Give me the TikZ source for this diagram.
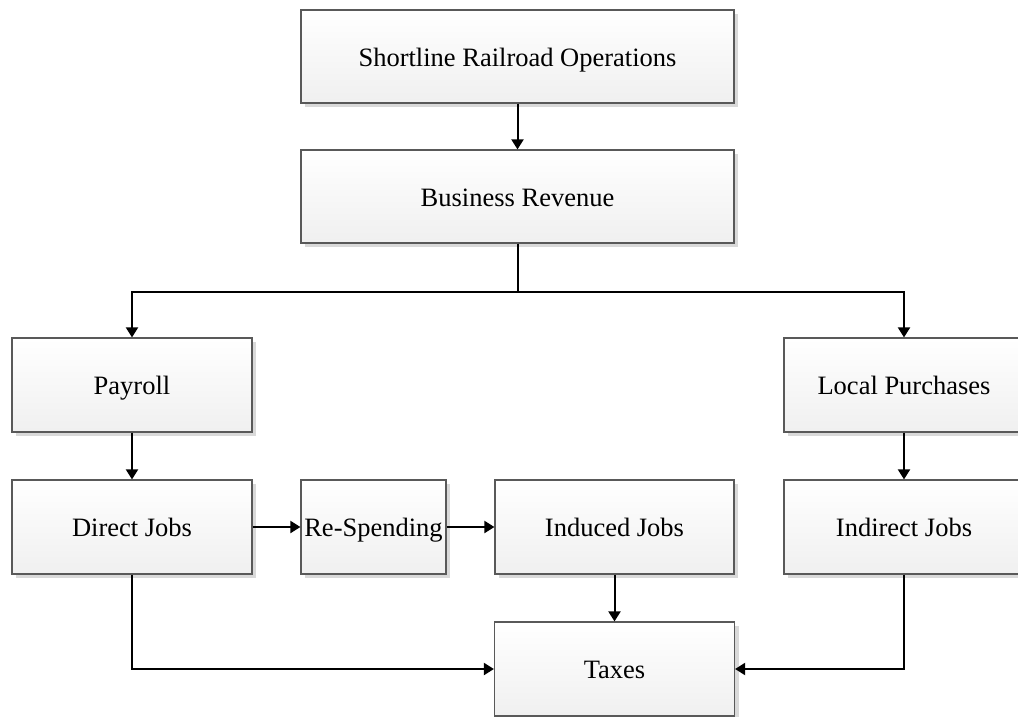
\documentclass[tikz,border=0pt]{standalone}
\usepackage{fontspec}
\setmainfont{Liberation Serif}
\usetikzlibrary{arrows.meta,shadows}
\tikzset{
  flowbox/.style={draw=black!65, line width=1.2pt, top color=white, bottom color=black!6,
    drop shadow={shadow xshift=4pt, shadow yshift=-4pt, fill=black!15, opacity=1},
    inner sep=0pt, font=\fontsize{26.5}{30}\selectfont, text=black,
    text height=24pt, text depth=5pt},
  conn/.style={line width=2pt, draw=black},
  arr/.style={conn, -{Triangle[length=10pt,width=12pt]}}
}
\begin{document}
\begin{tikzpicture}[x=1pt,y=-1pt]
\useasboundingbox (0,0) rectangle (1018,716);
\clip (0,0) rectangle (1018,716);
\fill[white] (0,0) rectangle (1018,716);
\node[flowbox, minimum width=433pt, minimum height=93pt] (sro) at (517.5,56.5) {Shortline Railroad Operations};
\node[flowbox, minimum width=433pt, minimum height=93pt] (br) at (517.5,196.5) {Business Revenue};
\node[flowbox, minimum width=240pt, minimum height=94pt] (pay) at (132,385) {Payroll};
\node[flowbox, minimum width=240pt, minimum height=94pt] (lp) at (904,385) {Local Purchases};
\node[flowbox, minimum width=240pt, minimum height=94pt] (dj) at (132,527) {Direct Jobs};
\node[flowbox, minimum width=145pt, minimum height=94pt] (rs) at (373.5,527) {Re-Spending};
\node[flowbox, minimum width=239pt, minimum height=94pt] (ij) at (614.5,527) {Induced Jobs};
\node[flowbox, minimum width=240pt, minimum height=94pt] (ind) at (904,527) {Indirect Jobs};
\node[flowbox, minimum width=240pt, minimum height=94pt] (tax) at (614.5,669) {Taxes};
\coordinate (j) at (517.5,292);
\draw[arr] (sro) -- (br);
\draw[conn] (br.south) -- (j);
\draw[arr] (j) -| (pay.north);
\draw[arr] (j) -| (lp.north);
\draw[arr] (pay) -- (dj);
\draw[arr] (lp) -- (ind);
\draw[arr] (dj.east) -- (rs.west);
\draw[arr] (rs.east) -- (ij.west);
\draw[arr] (ij) -- (tax);
\draw[arr] (dj.south) |- (tax.west);
\draw[arr] (ind.south) |- (tax.east);
\end{tikzpicture}
\end{document}
